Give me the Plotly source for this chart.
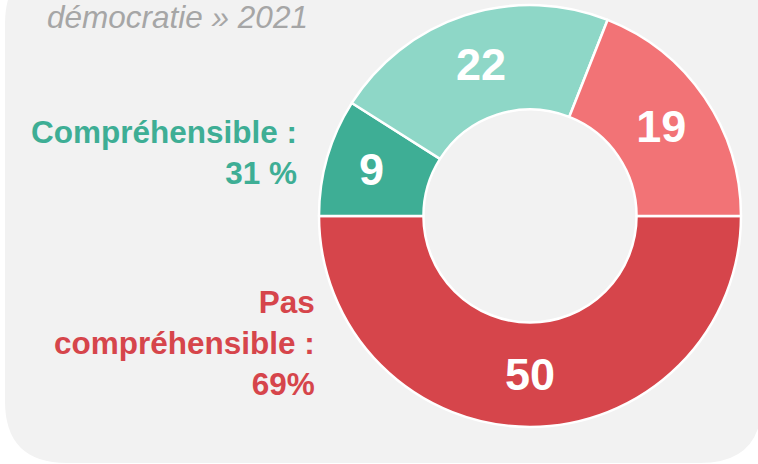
import plotly.graph_objects as go

# ---- data ----
categories = ["Pas du tout compréhensible", "Très compréhensible", "Assez compréhensible", "Peu compréhensible"]
values = [50, 9, 22, 19]
colors = ["#D6454B", "#3EAE95", "#8ED7C7", "#F27376"]
group_labels = ["Compréhensible :<br>31 %", "Pas<br>compréhensible :<br>69%"]
title_line = "démocratie » 2021"

W, H = 758, 464

def px(x):
    return x / W

def py(y):
    return 1 - y / H

# rounded background panel path (paper coords)
L, R, T, B, r = 5, 762, -38, 463, 62
path = (
    f"M {px(L + r)} {py(T)} L {px(R - r)} {py(T)} "
    f"Q {px(R)} {py(T)} {px(R)} {py(T + r)} L {px(R)} {py(B - r)} "
    f"Q {px(R)} {py(B)} {px(R - r)} {py(B)} L {px(L + r)} {py(B)} "
    f"Q {px(L)} {py(B)} {px(L)} {py(B - r)} L {px(L)} {py(T + r)} "
    f"Q {px(L)} {py(T)} {px(L + r)} {py(T)} Z"
)

fig = go.Figure(
    go.Pie(
        labels=categories,
        values=values,
        marker=dict(colors=colors, line=dict(color="white", width=2.5)),
        hole=0.505,
        sort=False,
        direction="clockwise",
        rotation=90,
        textinfo="value",
        textposition="inside",
        insidetextorientation="horizontal",
        textfont=dict(color="white", size=45, family="Liberation Sans, Arial", weight="bold"),
        domain=dict(x=[px(319), px(741)], y=[py(427), py(5)]),
        hoverinfo="skip",
        showlegend=False,
    )
)

fig.add_shape(type="path", path=path, xref="paper", yref="paper",
              fillcolor="#F2F2F2", line=dict(width=0), layer="below")

fig.add_annotation(text=title_line, xref="paper", yref="paper",
                   x=px(45), y=py(17), xanchor="left", yanchor="middle",
                   showarrow=False,
                   font=dict(size=31.5, color="#A6A6A6", family="Liberation Sans, Arial", style="italic"))

fig.add_annotation(text=group_labels[0], xref="paper", yref="paper",
                   x=px(299), y=py(152), xanchor="right", yanchor="middle", align="right",
                   showarrow=False,
                   font=dict(size=31.5, color="#3EAE95", family="Liberation Sans, Arial", weight="bold"))

fig.add_annotation(text=group_labels[1], xref="paper", yref="paper",
                   x=px(317), y=py(343), xanchor="right", yanchor="middle", align="right",
                   showarrow=False,
                   font=dict(size=31.5, color="#D6454B", family="Liberation Sans, Arial", weight="bold"))

fig.update_layout(
    width=W, height=H,
    margin=dict(l=0, r=0, t=0, b=0),
    paper_bgcolor="white",
    plot_bgcolor="white",
)

fig.write_html("out.html",
               config={"displayModeBar": False, "staticPlot": True},
               post_script="document.body.style.margin='0';document.body.style.overflow='hidden';")
